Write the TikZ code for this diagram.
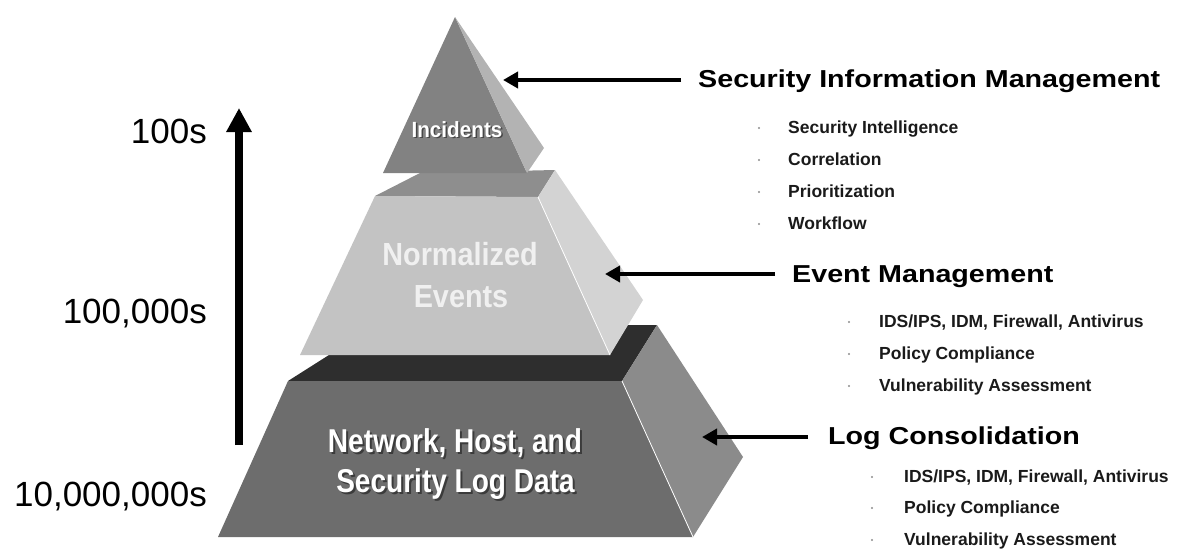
\documentclass[tikz,border=0pt]{standalone}
\usepackage{fontspec}
\setmainfont{Liberation Sans}
\usetikzlibrary{arrows.meta}
\definecolor{incFront}{HTML}{828282}
\definecolor{incSide}{HTML}{B3B3B3}
\definecolor{midTop}{HTML}{8E8E8E}
\definecolor{midFront}{HTML}{C3C3C3}
\definecolor{midSide}{HTML}{D3D3D3}
\definecolor{botTop}{HTML}{2E2E2E}
\definecolor{botFront}{HTML}{6D6D6D}
\definecolor{botSide}{HTML}{8B8B8B}
\definecolor{itemText}{HTML}{1A1A1A}
\tikzset{
  heading/.style={anchor=base west, inner sep=0pt, font=\bfseries\fontsize{24.5}{29}\selectfont},
  item/.style={anchor=base west, inner sep=0pt, text=itemText, font=\bfseries\fontsize{17.5}{21}\selectfont},
  count/.style={anchor=base east, inner sep=0pt, font=\fontsize{35}{42}\selectfont},
  bulletdot/.style={circle, fill=black!45, inner sep=0pt, minimum size=2.4pt},
  plabel/.style={anchor=base, inner sep=0pt, text=white, font=\bfseries},
  pshadow/.style={anchor=base, inner sep=0pt, text=black, opacity=0.45, font=\bfseries},
  harrow/.style={line width=4.5pt, -{Triangle[length=15pt,width=16pt]}},
  varrow/.style={line width=8pt, -{Triangle[length=24pt,width=24pt]}},
  edgeline/.style={white, line width=0.8pt}
}
\begin{document}
\begin{tikzpicture}[x=1pt,y=-1pt]
\useasboundingbox (0,0) rectangle (1184,555);

% bottom tier
\fill[botTop] (288,381) -- (340,348) -- (340,325) -- (657,325) -- (622,381) -- cycle;
\fill[botFront] (288,381) -- (622,381) -- (693,537) -- (218,537) -- cycle;
\fill[botSide] (622,381) -- (657,325) -- (743,457) -- (693,537) -- cycle;
\draw[edgeline] (622,381) -- (693,537);

% middle tier
\fill[midTop] (375,196) -- (420,173) -- (555,170) -- (538,197) -- cycle;
\fill[midFront] (375,196) -- (538,197) -- (610,355) -- (300,355) -- cycle;
\fill[midSide] (538,197) -- (555,170) -- (643,300) -- (610,355) -- cycle;
\draw[edgeline] (538,197) -- (610,355);

% top pyramid
\fill[incFront] (455,17) -- (527,173) -- (383,173) -- cycle;
\fill[incSide] (455,17) -- (544,148) -- (527,173) -- cycle;

% pyramid labels
\node[pshadow, font=\bfseries\fontsize{22}{26}\selectfont] (incS) at (458.5,138.5) {\scalebox{0.94}[1]{Incidents}};
\node[plabel, font=\bfseries\fontsize{22}{26}\selectfont] (inc) at (457,137) {\scalebox{0.94}[1]{Incidents}};

\node[plabel, text=white!94!black, font=\bfseries\fontsize{32}{38}\selectfont] (norm1) at (460,265) {\scalebox{0.9}[1]{Normalized}};
\node[plabel, text=white!94!black, font=\bfseries\fontsize{32}{38}\selectfont] (norm2) at (461,307) {\scalebox{0.9}[1]{Events}};

\node[pshadow, font=\bfseries\fontsize{33}{40}\selectfont] (net1S) at (457,454) {\scalebox{0.85}[1]{Network, Host, and}};
\node[plabel, font=\bfseries\fontsize{33}{40}\selectfont] (net1) at (455,452) {\scalebox{0.85}[1]{Network, Host, and}};
\node[pshadow, font=\bfseries\fontsize{33}{40}\selectfont] (net2S) at (457.5,494) {\scalebox{0.85}[1]{Security Log Data}};
\node[plabel, font=\bfseries\fontsize{33}{40}\selectfont] (net2) at (455.5,492) {\scalebox{0.85}[1]{Security Log Data}};

% counts and vertical arrow
\node[count] (c1) at (207,143) {100s};
\node[count] (c2) at (207,323) {100,000s};
\node[count] (c3) at (207,506) {10,000,000s};
\coordinate (vBot) at (239,445);
\coordinate (vTop) at (239,108);
\draw[varrow] (vBot) -- (vTop);

% headings
\node[heading] (sim) at (698,87) {\scalebox{1.17}[1]{Security Information Management}};
\node[heading] (em) at (792,282) {\scalebox{1.17}[1]{Event Management}};
\node[heading] (lc) at (828,444) {\scalebox{1.17}[1]{Log Consolidation}};

% arrows to pyramid
\coordinate (simA) at (681,80);
\coordinate (simB) at (503,80);
\coordinate (emA) at (775,274);
\coordinate (emB) at (605,274);
\coordinate (lcA) at (808,437);
\coordinate (lcB) at (702,437);
\draw[harrow] (simA) -- (simB);
\draw[harrow] (emA) -- (emB);
\draw[harrow] (lcA) -- (lcB);

% SIM items
\node[bulletdot] (d1) at (759,128) {};
\node[item] (i1) at (788,133) {Security Intelligence};
\node[bulletdot] (d2) at (759,160) {};
\node[item] (i2) at (788,165) {Correlation};
\node[bulletdot] (d3) at (759,192) {};
\node[item] (i3) at (788,197) {Prioritization};
\node[bulletdot] (d4) at (759,224) {};
\node[item] (i4) at (788,229) {Workflow};

% Event items
\node[bulletdot] (e1d) at (849,322) {};
\node[item] (e1) at (879,327) {IDS/IPS, IDM, Firewall, Antivirus};
\node[bulletdot] (e2d) at (849,354) {};
\node[item] (e2) at (879,359) {Policy Compliance};
\node[bulletdot] (e3d) at (849,386) {};
\node[item] (e3) at (879,391) {Vulnerability Assessment};

% Log items
\node[bulletdot] (l1d) at (872,477) {};
\node[item] (l1) at (904,482) {IDS/IPS, IDM, Firewall, Antivirus};
\node[bulletdot] (l2d) at (872,508) {};
\node[item] (l2) at (904,513) {Policy Compliance};
\node[bulletdot] (l3d) at (872,540) {};
\node[item] (l3) at (904,545) {Vulnerability Assessment};
\end{tikzpicture}
\end{document}
